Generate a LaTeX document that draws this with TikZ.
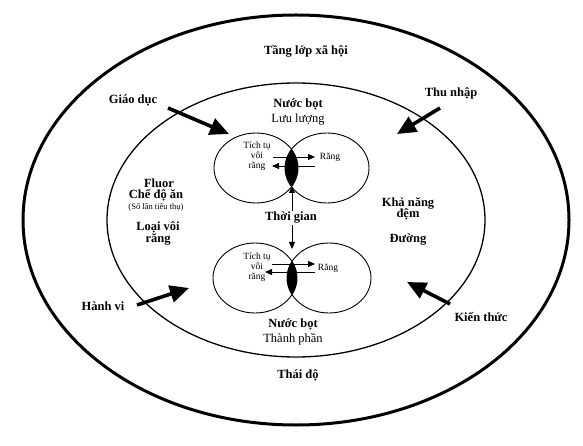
\documentclass[tikz,border=0pt]{standalone}
\usepackage{fontspec}
\setmainfont{Liberation Serif}
\usetikzlibrary{arrows.meta,shapes.geometric}

\begin{document}
\begin{tikzpicture}[x=1pt, y=-1pt, font=\fontsize{12.5}{15}\selectfont\bfseries,
	lbl/.style={align=center, inner sep=1pt},
	plain/.style={font=\fontsize{12.5}{15}\selectfont},
	tiny/.style={font=\fontsize{9.5}{10}\selectfont, align=center, inner sep=0pt},
	bigarrow/.style={line width=3.6pt, -{Triangle[length=19pt,width=17pt]}},
	minarrow/.style={line width=0.8pt, -{Triangle[length=7pt,width=6pt]}},
	blob/.style={ellipse, draw, line width=0.9pt, minimum width=84pt, minimum height=70pt, inner sep=0pt}]
	\useasboundingbox (0,0) rectangle (583,446);
	\node[ellipse, draw, line width=3pt, minimum width=546pt, minimum height=410pt] (outer) at (296,220) {};
	\node[ellipse, draw, line width=1.3pt, minimum width=378pt, minimum height=274pt] (inner) at (296,220) {};
	\begin{scope}
		\clip (256,168) ellipse [x radius=42, y radius=35];
		\fill (327,168) ellipse [x radius=42, y radius=35];
	\end{scope}
	\begin{scope}
		\clip (255,278) ellipse [x radius=42, y radius=35];
		\fill (329,278) ellipse [x radius=42, y radius=35];
	\end{scope}
	\node[blob] (UL) at (256,168) {};
	\node[blob] (UR) at (327,168) {};
	\node[blob] (LL) at (255,278) {};
	\node[blob] (LR) at (329,278) {};
	\node[lbl] (society) at (306,51) {Tầng lớp xã hội};
	\node[lbl] (edu) at (133,100) {Giáo dục};
	\node[lbl] (income) at (451,93) {Thu nhập};
	\node[lbl] (behav) at (103,306) {Hành vi};
	\node[lbl] (know) at (481,317) {Kiến thức};
	\node[lbl] (attit) at (298,375) {Thái độ};
	\node[lbl] (flow) at (298,112) {Nước bọt\\{\mdseries Lưu lượng}};
	\node[lbl] (content) at (293,332) {Nước bọt\\{\mdseries Thành phần}};
	\node[lbl] (fluor) at (159,183) {Fluor};
	\node[lbl] (diet) at (156,195) {Chế độ ăn};
	\node[tiny, font=\fontsize{8.5}{9}\selectfont] (freq) at (156,207) {(Số lần tiêu thụ)};
	\node[lbl] (kind) at (158,227) {Loại vôi};
	\node[lbl] (kind2) at (158,239) {răng};
	\node[lbl] (buffer) at (408,203) {Khả năng};
	\node[lbl] (buffer2) at (408,214) {đệm};
	\node[lbl] (sugar) at (408,240) {Đường};
	\node[tiny] (plaqueA) at (257,156) {Tích tụ\\vôi\\răng};
	\node[tiny] (toothA) at (330,157) {Răng};
	\node[tiny] (plaqueB) at (257,267) {Tích tụ\\vôi\\răng};
	\node[tiny] (toothB) at (328,268) {Răng};
	\coordinate (lensA) at (292,186);
	\coordinate (lensB) at (292,249);
	\draw[line width=0.8pt, {Triangle[length=7pt,width=6pt]}-{Triangle[length=7pt,width=6pt]}] (lensA) -- (lensB);
	\node[lbl, fill=white] (time) at (291,218) {Thời gian};
	\coordinate (a1) at (273,157);
	\coordinate (a2) at (315,157);
	\coordinate (a3) at (315,166);
	\coordinate (a4) at (272,166);
	\draw[minarrow] (a1) -- (a2);
	\draw[minarrow] (a3) -- (a4);
	\coordinate (b1) at (272,264);
	\coordinate (b2) at (315,264);
	\coordinate (b3) at (315,272);
	\coordinate (b4) at (265,272);
	\draw[minarrow] (b1) -- (b2);
	\draw[minarrow] (b3) -- (b4);
	\coordinate (eduT) at (168,108);
	\coordinate (eduH) at (229,134);
	\coordinate (incT) at (440,108);
	\coordinate (incH) at (397,134);
	\coordinate (behT) at (137,305);
	\coordinate (behH) at (189,288);
	\coordinate (knoT) at (450,304);
	\coordinate (knoH) at (407,282);
	\draw[bigarrow] (eduT) -- (eduH);
	\draw[bigarrow] (incT) -- (incH);
	\draw[bigarrow] (behT) -- (behH);
	\draw[bigarrow] (knoT) -- (knoH);
\end{tikzpicture}
\end{document}
